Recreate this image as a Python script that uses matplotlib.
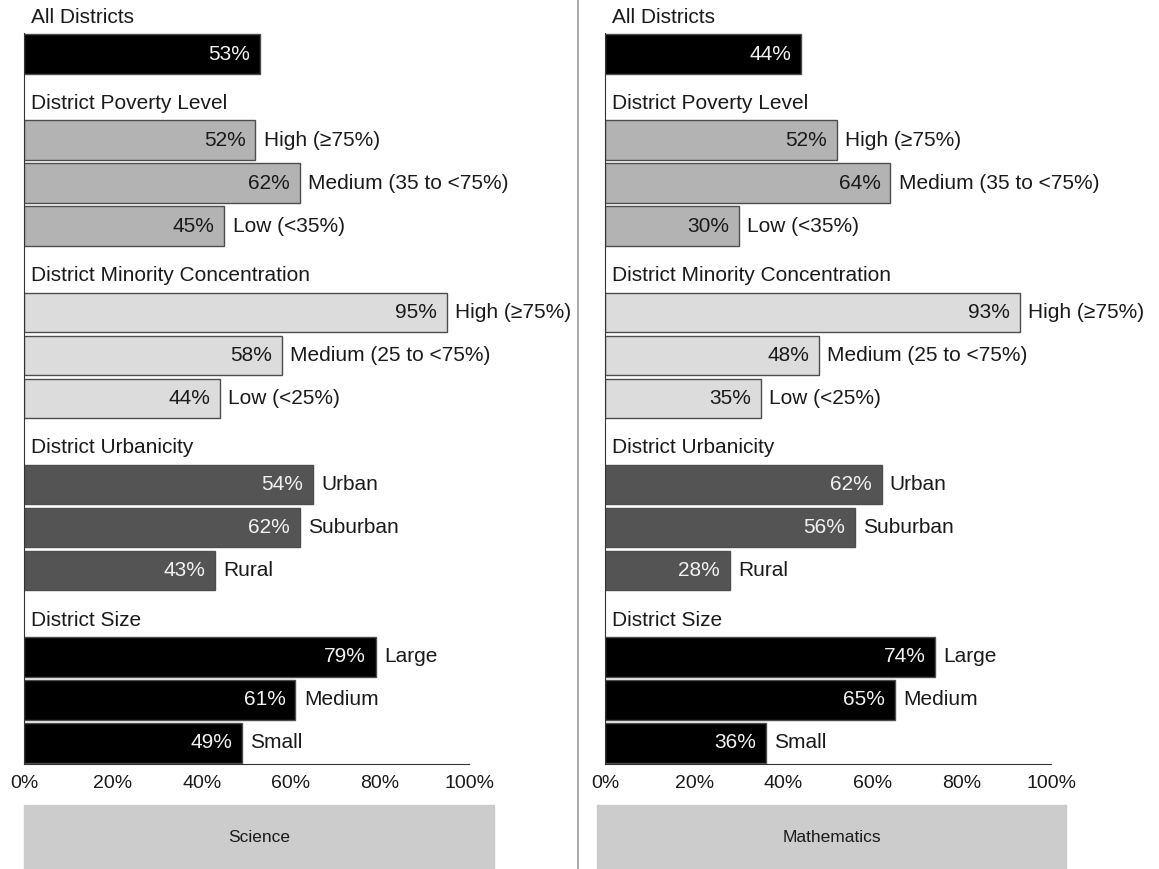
import matplotlib
matplotlib.use("Agg")
import matplotlib.pyplot as plt
from matplotlib.patches import Rectangle
from matplotlib.lines import Line2D

plt.rcParams['font.family'] = ['Liberation Sans', 'DejaVu Sans']

# groups and their bars (top to bottom)
groups = ["All Districts", "District Poverty Level", "District Minority Concentration",
          "District Urbanicity", "District Size"]
group_sizes = [1, 3, 3, 3, 3]
categories = ["", "High (\u226575%)", "Medium (35 to <75%)", "Low (<35%)",
              "High (\u226575%)", "Medium (25 to <75%)", "Low (<25%)",
              "Urban", "Suburban", "Rural",
              "Large", "Medium", "Small"]

science_values = [53, 52, 62, 45, 95, 58, 44, 54, 62, 43, 79, 61, 49]
# the source draws the science "Urban" bar longer than its label says
science_lengths = [53, 52, 62, 45, 95, 58, 44, 65, 62, 43, 79, 61, 49]
math_values = [44, 52, 64, 30, 93, 48, 35, 62, 56, 28, 74, 65, 36]

group_colors = ["#000000", "#b3b3b3", "#dcdcdc", "#545454", "#000000"]
group_text = ["#f2f2f2", "#1a1a1a", "#1a1a1a", "#f2f2f2", "#f2f2f2"]

ticks = [0, 20, 40, 60, 80, 100]
tick_labels = ["0%", "20%", "40%", "60%", "80%", "100%"]

# layout: header slot then bar slots
bar_pos, header_pos, bar_color, bar_tcolor = [], [], [], []
slot = 0
for g, n in enumerate(group_sizes):
    header_pos.append(slot + 0.15)
    slot += 1
    for i in range(n):
        bar_pos.append(slot)
        bar_color.append(group_colors[g])
        bar_tcolor.append(group_text[g])
        slot += 1

W, H = 1159, 869
fig = plt.figure(figsize=(W / 100, H / 100), dpi=100)


def draw_panel(ax, lengths, values):
    ax.barh(bar_pos, lengths, height=0.92, color=bar_color, edgecolor="#4d4d4d", linewidth=1)
    for p, L, v, c, tc in zip(bar_pos, lengths, values, categories, bar_tcolor):
        ax.annotate(f"{v}%", (L, p), xytext=(-7, 0), textcoords="offset points",
                    ha="right", va="center", fontsize=15, color=tc)
        if c:
            ax.annotate(c, (L, p), xytext=(6, 0), textcoords="offset points",
                        ha="left", va="center", fontsize=15, color="#1a1a1a")
    for h, name in zip(header_pos, groups):
        ax.annotate(name, (0, h), xytext=(5, 0), textcoords="offset points",
                    ha="left", va="center", fontsize=15, color="#1a1a1a")
    ax.set_xlim(0, 100)
    ax.set_ylim(17.49, -0.255)
    ax.set_xticks(ticks)
    ax.set_xticklabels(tick_labels)
    ax.set_yticks([])
    ax.tick_params(axis="x", length=0, pad=8, labelsize=14, colors="#1a1a1a")
    for s in ["top", "right"]:
        ax.spines[s].set_visible(False)
    ax.spines["left"].set_bounds(0.5, 17.49)
    ax.spines["left"].set_color("#333333")
    ax.spines["bottom"].set_color("#333333")


ax1 = fig.add_axes([24 / W, 105 / H, 445 / W, 764 / H])
draw_panel(ax1, science_lengths, science_values)
ax2 = fig.add_axes([605 / W, 105 / H, 446 / W, 764 / H])
draw_panel(ax2, math_values, math_values)

# subject boxes under each panel
for x0, x1, name in [(24, 494, "Science"), (597, 1066, "Mathematics")]:
    fig.patches.append(Rectangle((x0 / W, 0), (x1 - x0) / W, 64 / H,
                                 transform=fig.transFigure, color="#cccccc", zorder=0))
    fig.text((x0 + x1) / 2 / W, 31 / H, name, ha="center", va="center",
             fontsize=12.5, color="#1a1a1a")

# divider between panels
fig.lines.append(Line2D([578 / W, 578 / W], [0, 1], transform=fig.transFigure,
                        color="#999999", linewidth=1.2))

fig.savefig("out.png", dpi=100)
